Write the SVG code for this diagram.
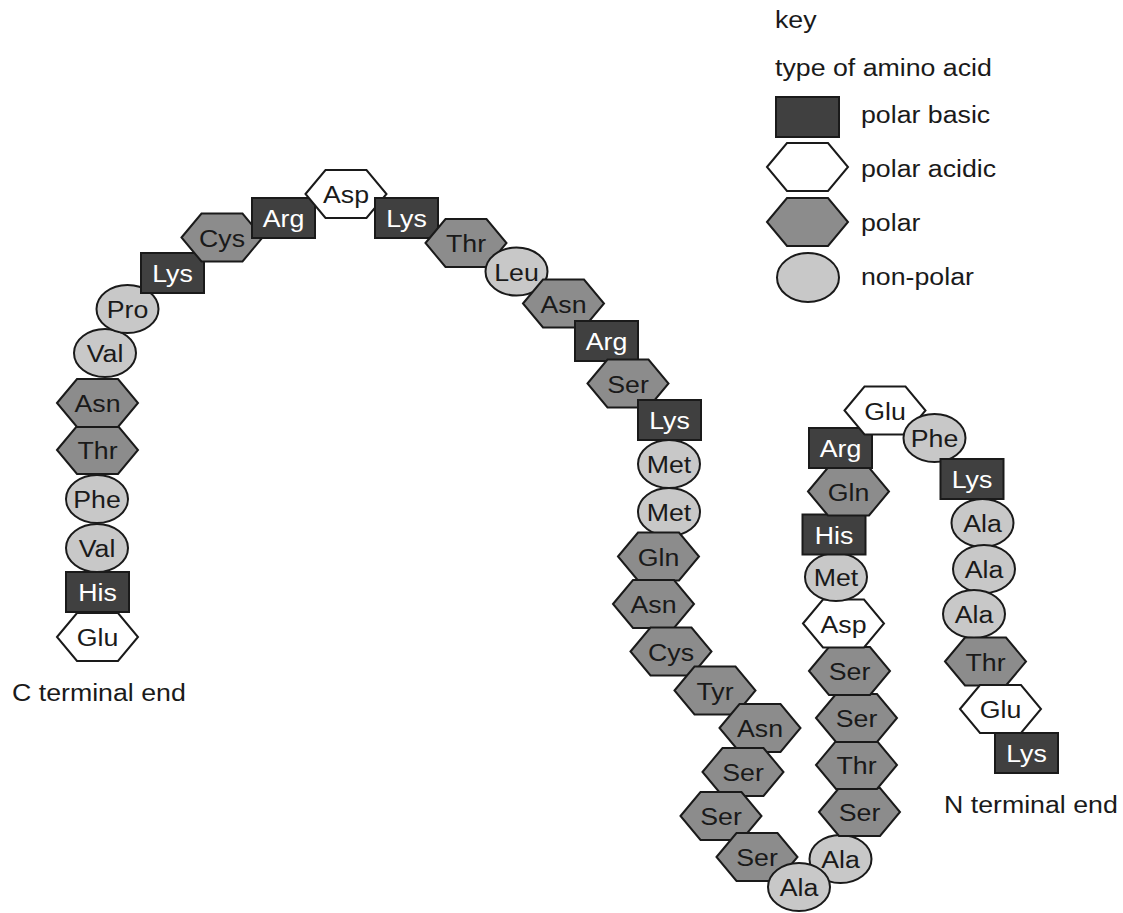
<svg xmlns="http://www.w3.org/2000/svg" xmlns:xlink="http://www.w3.org/1999/xlink" width="1123" height="913" viewBox="0 0 1123 913">
<style>
text{font-family:"Liberation Sans",Arial,sans-serif;font-size:24.3px;fill:#1a1a1a}
.lbl{text-anchor:middle;transform:scale(1.1,1)}
.wt{fill:#ffffff}
.b{fill:#404040;stroke:#1a1a1a;stroke-width:2}
.a{fill:#ffffff;stroke:#1a1a1a;stroke-width:2}
.p{fill:#8c8c8c;stroke:#1a1a1a;stroke-width:2}
.n{fill:#c8c8c8;stroke:#1a1a1a;stroke-width:2}
</style>
<defs>
<rect id="R" x="-31.5" y="-20" width="63" height="40"/>
<polygon id="H" points="-40.5,0 -20.5,-24 20.5,-24 40.5,0 20.5,24 -20.5,24"/>
<ellipse id="E" cx="0" cy="0" rx="31" ry="24"/>
</defs>
<rect width="1123" height="913" fill="#ffffff"/>
<g id="connectors"/>
<g id="chain">
<g id="c1" transform="translate(97.5,637)"><use xlink:href="#H" class="a"/><text class="lbl" y="9">Glu</text></g>
<g id="c2" transform="translate(97.5,592)"><use xlink:href="#R" class="b"/><text class="lbl wt" y="9">His</text></g>
<g id="c3" transform="translate(97,548)"><use xlink:href="#E" class="n"/><text class="lbl" y="9">Val</text></g>
<g id="c4" transform="translate(97,499)"><use xlink:href="#E" class="n"/><text class="lbl" y="9">Phe</text></g>
<g id="c5" transform="translate(97.5,450)"><use xlink:href="#H" class="p"/><text class="lbl" y="9">Thr</text></g>
<g id="c6" transform="translate(97.5,403)"><use xlink:href="#H" class="p"/><text class="lbl" y="9">Asn</text></g>
<g id="c7" transform="translate(105,353)"><use xlink:href="#E" class="n"/><text class="lbl" y="9">Val</text></g>
<g id="c8" transform="translate(127.5,309)"><use xlink:href="#E" class="n"/><text class="lbl" y="9">Pro</text></g>
<g id="c9" transform="translate(172.5,273)"><use xlink:href="#R" class="b"/><text class="lbl wt" y="9">Lys</text></g>
<g id="c10" transform="translate(222,237.5)"><use xlink:href="#H" class="p"/><text class="lbl" y="9">Cys</text></g>
<g id="c11" transform="translate(283.5,218)"><use xlink:href="#R" class="b"/><text class="lbl wt" y="9">Arg</text></g>
<g id="c12" transform="translate(346,194)"><use xlink:href="#H" class="a"/><text class="lbl" y="9">Asp</text></g>
<g id="c13" transform="translate(406.5,218)"><use xlink:href="#R" class="b"/><text class="lbl wt" y="9">Lys</text></g>
<g id="c14" transform="translate(466,243)"><use xlink:href="#H" class="p"/><text class="lbl" y="9">Thr</text></g>
<g id="c15" transform="translate(516.5,271.5)"><use xlink:href="#E" class="n"/><text class="lbl" y="9">Leu</text></g>
<g id="c16" transform="translate(563.5,303.5)"><use xlink:href="#H" class="p"/><text class="lbl" y="9">Asn</text></g>
<g id="c17" transform="translate(606.5,341)"><use xlink:href="#R" class="b"/><text class="lbl wt" y="9">Arg</text></g>
<g id="c18" transform="translate(628,383.5)"><use xlink:href="#H" class="p"/><text class="lbl" y="9">Ser</text></g>
<g id="c19" transform="translate(669.5,420)"><use xlink:href="#R" class="b"/><text class="lbl wt" y="9">Lys</text></g>
<g id="c20" transform="translate(669,464)"><use xlink:href="#E" class="n"/><text class="lbl" y="9">Met</text></g>
<g id="c21" transform="translate(669,512)"><use xlink:href="#E" class="n"/><text class="lbl" y="9">Met</text></g>
<g id="c22" transform="translate(658.5,556.5)"><use xlink:href="#H" class="p"/><text class="lbl" y="9">Gln</text></g>
<g id="c23" transform="translate(653.5,604)"><use xlink:href="#H" class="p"/><text class="lbl" y="9">Asn</text></g>
<g id="c24" transform="translate(671,651.5)"><use xlink:href="#H" class="p"/><text class="lbl" y="9">Cys</text></g>
<g id="c25" transform="translate(715,690.5)"><use xlink:href="#H" class="p"/><text class="lbl" y="9">Tyr</text></g>
<g id="c26" transform="translate(760,728)"><use xlink:href="#H" class="p"/><text class="lbl" y="9">Asn</text></g>
<g id="c27" transform="translate(743,772)"><use xlink:href="#H" class="p"/><text class="lbl" y="9">Ser</text></g>
<g id="c28" transform="translate(721,816)"><use xlink:href="#H" class="p"/><text class="lbl" y="9">Ser</text></g>
<g id="c29" transform="translate(757,857)"><use xlink:href="#H" class="p"/><text class="lbl" y="9">Ser</text></g>
<g id="c31" transform="translate(840.5,859)"><use xlink:href="#E" class="n"/><text class="lbl" y="9">Ala</text></g>
<g id="c30" transform="translate(799,887)"><use xlink:href="#E" class="n"/><text class="lbl" y="9">Ala</text></g>
<g id="c32" transform="translate(859.5,812)"><use xlink:href="#H" class="p"/><text class="lbl" y="9">Ser</text></g>
<g id="c33" transform="translate(856.5,765)"><use xlink:href="#H" class="p"/><text class="lbl" y="9">Thr</text></g>
<g id="c34" transform="translate(856.5,718)"><use xlink:href="#H" class="p"/><text class="lbl" y="9">Ser</text></g>
<g id="c35" transform="translate(849.5,671)"><use xlink:href="#H" class="p"/><text class="lbl" y="9">Ser</text></g>
<g id="c36" transform="translate(843.5,623.5)"><use xlink:href="#H" class="a"/><text class="lbl" y="9">Asp</text></g>
<g id="c37" transform="translate(836,577)"><use xlink:href="#E" class="n"/><text class="lbl" y="9">Met</text></g>
<g id="c38" transform="translate(834,534.5)"><use xlink:href="#R" class="b"/><text class="lbl wt" y="9">His</text></g>
<g id="c39" transform="translate(848.5,491.5)"><use xlink:href="#H" class="p"/><text class="lbl" y="9">Gln</text></g>
<g id="c40" transform="translate(840.5,448)"><use xlink:href="#R" class="b"/><text class="lbl wt" y="9">Arg</text></g>
<g id="c41" transform="translate(885,410.5)"><use xlink:href="#H" class="a"/><text class="lbl" y="9">Glu</text></g>
<g id="c42" transform="translate(934.5,438)"><use xlink:href="#E" class="n"/><text class="lbl" y="9">Phe</text></g>
<g id="c43" transform="translate(972,479)"><use xlink:href="#R" class="b"/><text class="lbl wt" y="9">Lys</text></g>
<g id="c44" transform="translate(982.5,523)"><use xlink:href="#E" class="n"/><text class="lbl" y="9">Ala</text></g>
<g id="c45" transform="translate(984,569)"><use xlink:href="#E" class="n"/><text class="lbl" y="9">Ala</text></g>
<g id="c46" transform="translate(974,614)"><use xlink:href="#E" class="n"/><text class="lbl" y="9">Ala</text></g>
<g id="c47" transform="translate(985.5,661.5)"><use xlink:href="#H" class="p"/><text class="lbl" y="9">Thr</text></g>
<g id="c48" transform="translate(1000.5,709)"><use xlink:href="#H" class="a"/><text class="lbl" y="9">Glu</text></g>
<g id="c49" transform="translate(1026.5,753)"><use xlink:href="#R" class="b"/><text class="lbl wt" y="9">Lys</text></g>
</g>
<g id="labels">
<g transform="translate(12,701) scale(1.1,1)"><text>C terminal end</text></g>
<g transform="translate(944,813) scale(1.1,1)"><text>N terminal end</text></g>
</g>
<g id="key">
<g transform="translate(775,28) scale(1.1,1)"><text>key</text></g>
<g transform="translate(775,76) scale(1.1,1)"><text>type of amino acid</text></g>
<g id="key-basic"><use xlink:href="#R" class="b" transform="translate(807.5,117)"/><g transform="translate(861,123) scale(1.1,1)"><text>polar basic</text></g></g>
<g id="key-acidic"><use xlink:href="#H" class="a" transform="translate(807.5,167)"/><g transform="translate(861,177) scale(1.1,1)"><text>polar acidic</text></g></g>
<g id="key-polar"><use xlink:href="#H" class="p" transform="translate(807.5,222)"/><g transform="translate(861,231) scale(1.1,1)"><text>polar</text></g></g>
<g id="key-nonpolar"><ellipse cx="808" cy="277.5" rx="31" ry="24.5" class="n"/><g transform="translate(861,285) scale(1.1,1)"><text>non-polar</text></g></g>
</g>
</svg>
